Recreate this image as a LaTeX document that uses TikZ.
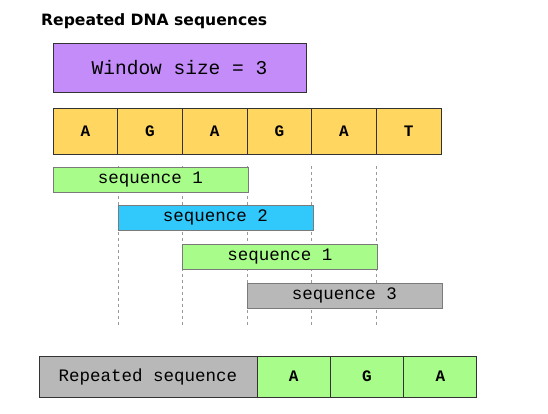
\documentclass[tikz,border=0pt]{standalone}
\usepackage{fontspec}
\setmonofont{Liberation Mono}
\newfontfamily\titlefont{DejaVu Sans}
\definecolor{winpurple}{HTML}{C38CF8}
\definecolor{dnayellow}{HTML}{FFD660}
\definecolor{seqgreen}{HTML}{A8FC8A}
\definecolor{seqblue}{HTML}{31C8FB}
\definecolor{seqgray}{HTML}{B8B8B8}
\definecolor{edgedark}{HTML}{333333}
\definecolor{edgegray}{HTML}{7A7A7A}
\begin{document}
\begin{tikzpicture}[x=1pt,y=-1pt,
  base/.style={draw, inner sep=0pt, outer sep=0pt, anchor=north west, line width=1pt},
  cell/.style={base, draw=edgedark, fill=dnayellow, minimum width=64.67pt, minimum height=46pt,
    font=\ttfamily\bfseries\fontsize{16}{16}\selectfont},
  seqbar/.style={base, draw=edgegray, minimum width=195pt, minimum height=25pt,
    font=\ttfamily\fontsize{17.5}{17.5}\selectfont},
  rescell/.style={base, draw=edgedark, fill=seqgreen, minimum width=73.33pt, minimum height=41pt,
    font=\ttfamily\bfseries\fontsize{16}{16}\selectfont},
  guide/.style={draw=gray!80, dashed, dash pattern=on 3pt off 3pt, line width=0.6pt}]
\useasboundingbox (0,0) rectangle (548,413);

\node[anchor=base west, inner sep=0pt, font=\titlefont\bfseries\fontsize{15.6}{15.6}\selectfont] (title) at (41,25) {Repeated DNA sequences};

\node[base, draw=edgedark, fill=winpurple, minimum width=253pt, minimum height=49pt,
  font=\ttfamily\fontsize{19.5}{19.5}\selectfont] (win) at (53,43) {Window size = 3};

% dashed guides
\foreach \i/\x in {1/118,2/182.3,3/247,4/311.7,5/376.3}{
  \coordinate (gt\i) at (\x,166);
  \coordinate (gb\i) at (\x,325);
  \draw[guide] (gt\i) -- (gb\i);
}

\node[cell] (c1) at (53,108) {A};
\node[cell] (c2) at (c1.north east) {G};
\node[cell] (c3) at (c2.north east) {A};
\node[cell] (c4) at (c3.north east) {G};
\node[cell] (c5) at (c4.north east) {A};
\node[cell] (c6) at (c5.north east) {T};

\node[seqbar, fill=seqgreen] (s1) at (53,167) {sequence 1};
\node[seqbar, fill=seqblue] (s2) at (118,205) {sequence 2};
\node[seqbar, fill=seqgreen] (s3) at (182.3,244) {sequence 1};
\node[seqbar, fill=seqgray] (s4) at (247,283) {sequence 3};

\node[base, draw=edgedark, fill=seqgray, minimum width=218pt, minimum height=41pt,
  font=\ttfamily\fontsize{17.5}{17.5}\selectfont] (rep) at (39,356) {Repeated sequence};
\node[rescell] (r1) at (rep.north east) {A};
\node[rescell] (r2) at (r1.north east) {G};
\node[rescell] (r3) at (r2.north east) {A};
\end{tikzpicture}
\end{document}
